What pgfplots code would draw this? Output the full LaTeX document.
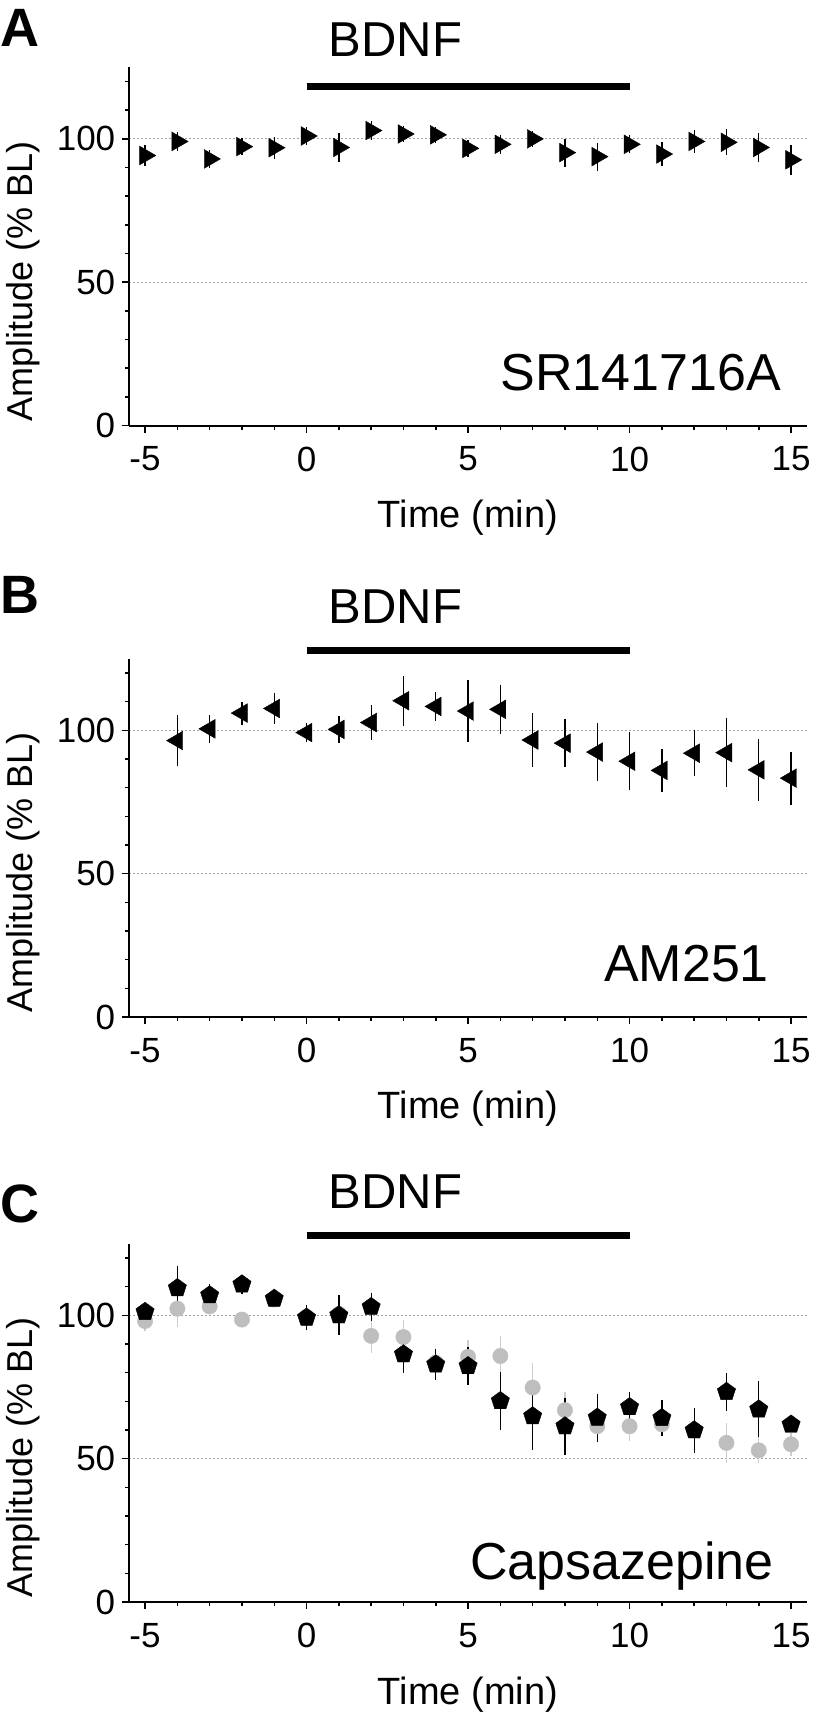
\documentclass[border=0pt]{standalone}
\usepackage{fontspec}
\setmainfont{Liberation Sans}
\usepackage{pgfplots}
\usepackage{pgfplotstable}
\pgfplotsset{compat=1.18}

\definecolor{lgrey}{RGB}{190,190,190}
\definecolor{lgreyerr}{RGB}{205,205,205}
\definecolor{gridgrey}{RGB}{160,160,160}

\pgfplotstableread{
x y e
-5 94.2 3.5
-4 99.1 3.2
-3 93.0 3.2
-2 97.3 3.0
-1 96.9 3.8
0 101.0 3.0
1 97.0 5.1
2 102.9 3.2
3 101.7 2.7
4 101.4 2.9
5 96.7 3.0
6 98.1 3.4
7 100.0 2.7
8 95.2 4.9
9 93.8 4.9
10 98.1 3.2
11 94.7 4.1
12 99.1 4.1
13 98.8 4.5
14 97.0 5.2
15 92.7 5.2
}\dataA

\pgfplotstableread{
x y e
-4 96.4 9.0
-3 100.5 5.0
-2 106.0 4.0
-1 107.6 5.5
0 99.2 3.4
1 100.3 4.8
2 102.7 6.0
3 110.3 8.8
4 108.3 5.2
5 106.7 10.7
6 107.3 8.6
7 96.6 9.3
8 95.5 8.4
9 92.4 10.2
10 89.2 10.2
11 86.0 7.6
12 92.0 8.0
13 92.2 12.0
14 86.2 10.9
15 83.3 9.2
}\dataB

\pgfplotstableread{
x y e
-5 101.2 2.0
-4 109.5 7.8
-3 107.0 4.0
-2 110.8 3.4
-1 105.8 1.5
0 99.2 4.4
1 100.0 6.9
2 102.9 4.8
3 86.4 6.4
4 82.9 5.5
5 82.3 6.7
6 70.1 10.0
7 64.8 11.7
8 61.3 9.9
9 64.3 8.4
10 68.0 5.2
11 64.2 6.4
12 59.9 7.8
13 73.3 6.7
14 67.2 9.8
15 61.9 2.3
}\dataCblack

\pgfplotstableread{
x y e
-5 98.0 3.5
-4 102.3 6.3
-3 103.1 2.0
-2 98.5 1.5
-1 105.5 1.5
0 99.5 2.0
1 100.5 2.0
2 92.8 6.0
3 92.4 5.8
4 83.5 3.0
5 85.5 6.0
6 85.8 7.0
7 74.8 8.4
8 66.9 6.4
9 61.3 3.0
10 61.3 5.0
11 62.0 4.0
12 60.0 3.0
13 55.5 7.0
14 52.9 4.5
15 55.0 4.0
}\dataCgrey

\tikzset{
  lab/.style={font=\bfseries\fontsize{54}{65}\selectfont, inner sep=0pt, anchor=base west},
  bdnf/.style={font=\fontsize{49}{59}\selectfont, inner sep=0pt, anchor=base},
  drug/.style={font=\fontsize{52}{62}\selectfont, inner sep=0pt, anchor=base east},
}

\pgfplotsset{
  panel/.style={
    scale only axis,
    width=678.3pt, height=358.4pt,
    anchor=south west,
    xmin=-5.5, xmax=15.5, ymin=0, ymax=125,
    axis x line*=bottom, axis y line*=left,
    axis line style={line width=2pt, -},
    xtick={-5,0,5,10,15}, xticklabels={-5,0,5,10,15},
    minor xtick={-4,-3,-2,-1,1,2,3,4,6,7,8,9,11,12,13,14},
    ytick={0,50,100}, yticklabels={0,50,100},
    minor ytick={10,20,30,40,60,70,80,90,110,120},
    tick align=outside,
    major tick length=7pt, minor tick length=4pt,
    every tick/.style={black, line width=1.5pt},
    ymajorgrids,
    grid style={gridgrey, line width=0.9pt, dash pattern=on 2pt off 2pt},
    tick label style={font=\fontsize{35}{42}\selectfont, inner sep=0pt},
    xticklabel style={anchor=north, yshift=-14pt},
    yticklabel style={anchor=east, xshift=-6.5pt},
    xlabel={Time (min)},
    xlabel style={font=\fontsize{38}{46}\selectfont, inner sep=0pt,
      at={(axis description cs:0.5,0)}, anchor=base, yshift=-102pt},
    ylabel={Amplitude (\% BL)},
    ylabel style={font=\fontsize{36}{43}\selectfont, inner sep=0pt,
      at={(axis description cs:-0.156,0.402)}, anchor=center},
    clip=false,
    error bars/y dir=both,
    error bars/y explicit,
    error bars/error mark=none,
  },
}

\begin{document}
\begin{tikzpicture}
\useasboundingbox (0pt,0pt) rectangle (814pt,1714pt);

% Panel A
\begin{axis}[panel, at={(128.9pt,1288.4pt)}]
\addplot[black, line width=7pt] coordinates {(0,118.2) (10,118.2)};
\addplot[only marks, mark=triangle*, mark size=10.8pt,
  mark options={rotate=-90, fill=black, draw=black, line width=0.4pt},
  error bars/error bar style={black, line width=1.3pt}]
  table[x=x, y=y, y error=e] {\dataA};
\node[bdnf] at (axis cs:2.75,128.7) {BDNF};
\node[lab] at (axis cs:-9.49,132.1) {A};
\node[drug] at (axis cs:14.69,12.4) {SR141716A};
\end{axis}

% Panel B
\begin{axis}[panel, at={(128.9pt,697pt)}]
\addplot[black, line width=7pt] coordinates {(0,127.7) (10,127.7)};
\addplot[only marks, mark=triangle*, mark size=10.8pt,
  mark options={rotate=90, fill=black, draw=black, line width=0.4pt},
  error bars/error bar style={black, line width=1.3pt}]
  table[x=x, y=y, y error=e] {\dataB};
\node[bdnf] at (axis cs:2.75,137.3) {BDNF};
\node[lab] at (axis cs:-9.49,140.6) {B};
\node[drug] at (axis cs:14.32,12.3) {AM251};
\end{axis}

% Panel C
\begin{axis}[panel, at={(128.9pt,112pt)}]
\addplot[black, line width=7pt] coordinates {(0,127.8) (10,127.8)};
\addplot[only marks, mark=*, mark size=7.7pt,
  mark options={fill=lgrey, draw=lgrey, line width=0.4pt},
  error bars/error bar style={lgreyerr, line width=1.3pt}]
  table[x=x, y=y, y error=e] {\dataCgrey};
\addplot[only marks, mark=pentagon*, mark size=9.6pt,
  mark options={fill=black, draw=black, line width=0.4pt},
  error bars/error bar style={black, line width=1.3pt}]
  table[x=x, y=y, y error=e] {\dataCblack};
\node[bdnf] at (axis cs:2.75,137.3) {BDNF};
\node[lab] at (axis cs:-9.49,132.2) {C};
\node[drug] at (axis cs:14.47,7.7) {Capsazepine};
\end{axis}
\end{tikzpicture}
\end{document}
